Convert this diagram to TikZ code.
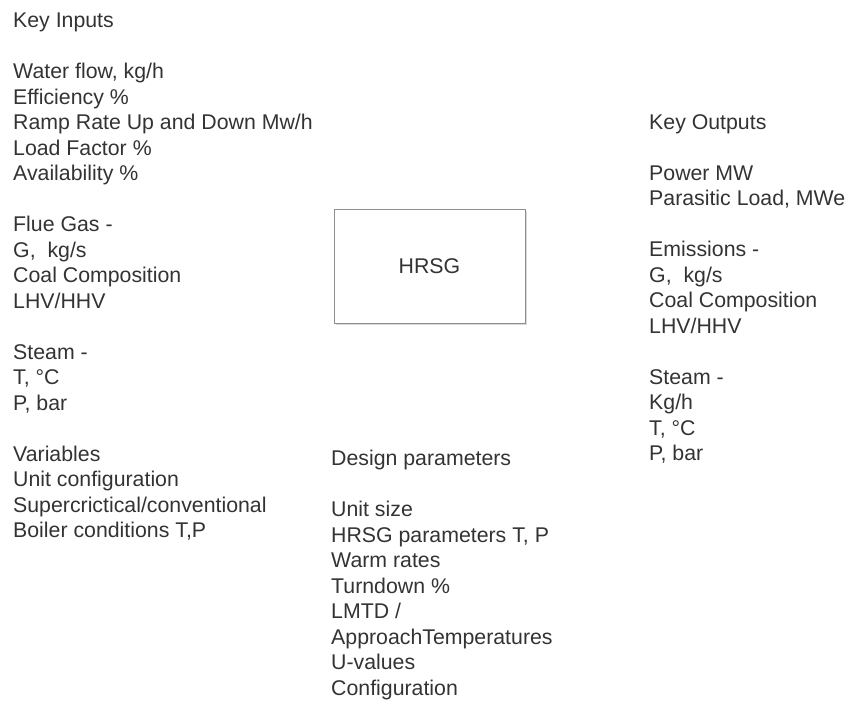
\documentclass[tikz,border=0pt]{standalone}
\usepackage{fontspec}
\setmainfont{Liberation Sans}
\usetikzlibrary{shadows}
\definecolor{txt}{HTML}{333333}
\definecolor{boxline}{HTML}{8E8E8E}
\tikzset{
  txtblock/.style={anchor=base west, align=left, inner sep=0pt, text=txt,
    font=\fontsize{21.3bp}{25.5bp}\selectfont},
  mainbox/.style={draw=boxline, line width=0.9bp, fill=white,
    minimum width=191bp, minimum height=114bp, inner sep=0pt, text=txt,
    font=\fontsize{21.3bp}{25.5bp}\selectfont,
    drop shadow={shadow xshift=1.5bp, shadow yshift=-1.5bp, fill=black!15, opacity=1}}
}
\begin{document}
\begin{tikzpicture}[x=1bp,y=-1bp]
\useasboundingbox (0,0) rectangle (848,702);
% left column (anchor = baseline of last line)
\node[txtblock] (kin) at (13,27.6) {Key Inputs};
\node[txtblock] (inlist) at (13,180.6) {Water flow, kg/h\\Efficiency \%\\Ramp Rate Up and Down Mw/h\\Load Factor \%\\Availability \%};
\node[txtblock] (flue) at (13,308.1) {Flue Gas -\\G,\ \ kg/s\\Coal Composition\\LHV/HHV};
\node[txtblock] (steamin) at (13,410.1) {Steam -\\T, °C\\P, bar};
\node[txtblock] (vars) at (13,537.6) {Variables\\Unit configuration\\Supercrictical/conventional\\Boiler conditions T,P};
% centre
\node[mainbox] (hrsg) at (429.5,266) {HRSG};
\node[txtblock] (dp) at (331,465.6) {Design parameters};
\node[txtblock] (dplist) at (331,695.1) {Unit size\\HRSG parameters T, P\\Warm rates\\Turndown \%\\LMTD /\\ApproachTemperatures\\U-values\\Configuration};
% right column
\node[txtblock] (kout) at (649,129.3) {Key Outputs};
\node[txtblock] (power) at (649,205.8) {Power MW\\Parasitic Load, MWe};
\node[txtblock] (emis) at (649,333.3) {Emissions -\\G,\ \ kg/s\\Coal Composition\\LHV/HHV};
\node[txtblock] (steamout) at (649,460.8) {Steam -\\Kg/h\\T, °C\\P, bar};
\end{tikzpicture}
\end{document}
